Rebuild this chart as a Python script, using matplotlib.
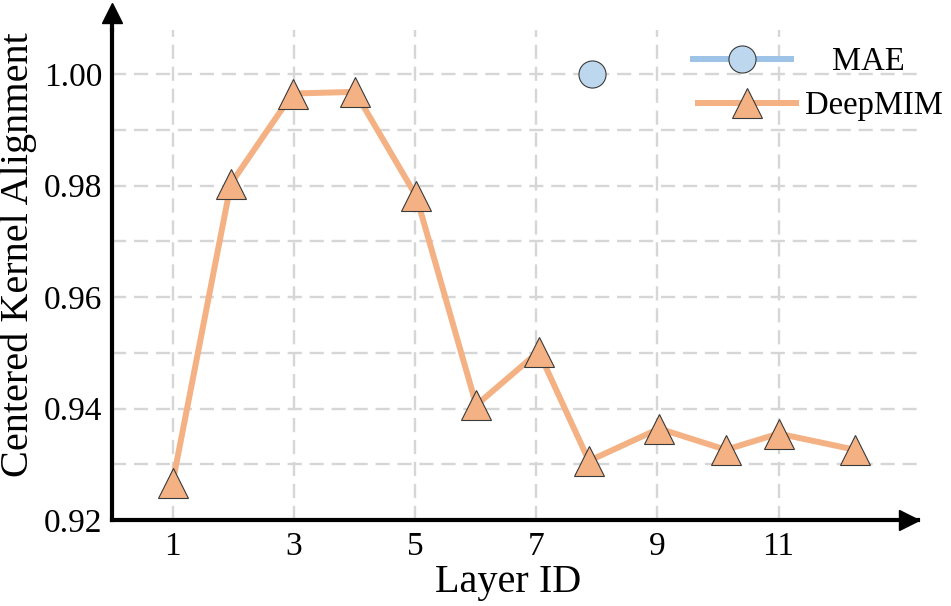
import matplotlib.pyplot as plt
from matplotlib.ticker import MultipleLocator

layers = [1, 1.96, 2.98, 4.01, 5.02, 6.01, 7.04, 7.87, 9.03, 10.13, 11.0, 12.26]
deepmim = [0.9267, 0.9803, 0.9965, 0.9968, 0.9781, 0.9406, 0.9502, 0.9306, 0.9364, 0.9326, 0.9355, 0.9326]
mae_layer = [7.92]
mae = [1.00]
xticks = [1, 3, 5, 7, 9, 11]
yticks = [0.92, 0.94, 0.96, 0.98, 1.00]

plt.rcParams['font.family'] = ['Liberation Serif', 'DejaVu Serif']

fig = plt.figure(figsize=(9.51, 6.06), dpi=100)
ax = fig.add_axes([0.1178, 0.1419, 0.8475, 0.8086])

orange = '#F4B183'
blue_line = '#9DC3E6'
blue_fill = '#BDD7EE'
edge = '#3A3A3A'

l_mae, = ax.plot(mae_layer, mae, '-o', color=blue_line, lw=4.3, ms=19.5,
                 mfc=blue_fill, mec=edge, mew=0.8, zorder=4, label='MAE')
l_deep, = ax.plot(layers, deepmim, '-^', color=orange, lw=4.3, ms=21.6,
                  mfc=orange, mec=edge, mew=0.8, zorder=3, label='DeepMIM')

ax.set_xlim(0, 13.30)
ax.set_ylim(0.92, 1.0079)
ax.set_xticks(xticks)
ax.set_xticklabels([str(t) for t in xticks])
ax.set_yticks(yticks)
ax.set_yticklabels(['%.2f' % t for t in yticks])
ax.yaxis.set_minor_locator(MultipleLocator(0.01))
ax.tick_params(axis='both', which='both', length=0, labelsize=24)
ax.tick_params(axis='x', pad=8)
ax.tick_params(axis='y', pad=7)

ax.grid(True, which='major', axis='x', color='#D6D6D6', lw=1.7, ls=(0, (6, 3.3)))
ax.grid(True, which='both', axis='y', color='#D6D6D6', lw=1.7, ls=(0, (6, 3.3)))
ax.set_axisbelow(True)

for s in ['top', 'right']:
    ax.spines[s].set_visible(False)
for s in ['left', 'bottom']:
    ax.spines[s].set_linewidth(3)
    ax.spines[s].set_capstyle('projecting')

# axis arrows
ax.plot([0, 0], [1, 1.03], color='k', lw=3, transform=ax.transAxes, clip_on=False)
ax.plot(0, 1.034, '^', color='k', ms=14.5, transform=ax.transAxes, clip_on=False)
ax.plot(0.989, 0, '>', color='k', ms=14.5, transform=ax.transAxes, clip_on=False)

ax.set_xlabel('Layer ID', fontsize=29, labelpad=0)
ax.xaxis.set_label_coords(0.491, -0.09)
ax.set_ylabel('Centered Kernel Alignment', fontsize=29)
ax.yaxis.set_label_coords(-0.093, 0.541)

leg1 = fig.legend(handles=[l_mae], loc='center left', bbox_to_anchor=(693 / 951, 1 - 62 / 606),
                  frameon=False, fontsize=23.5, borderpad=0, borderaxespad=0,
                  handlelength=3.0, handletextpad=1.25, numpoints=1)
leg2 = fig.legend(handles=[l_deep], loc='center left', bbox_to_anchor=(698 / 951, 1 - 106 / 606),
                  frameon=False, fontsize=23.5, borderpad=0, borderaxespad=0,
                  handlelength=3.0, handletextpad=0.27, numpoints=1)

fig.savefig('out.png', dpi=100)
